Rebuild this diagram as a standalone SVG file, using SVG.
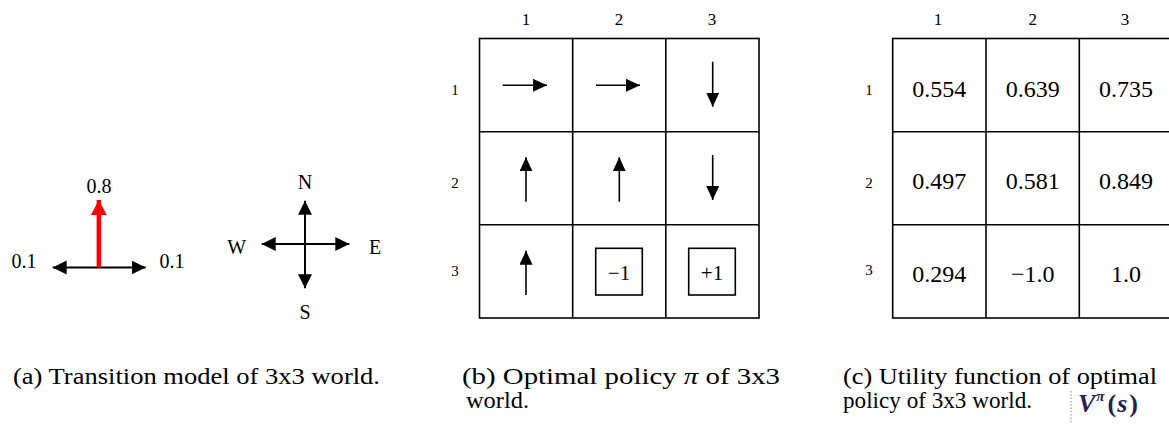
<svg xmlns="http://www.w3.org/2000/svg" width="1169" height="424" viewBox="0 0 1169 424" font-family="Liberation Serif, serif">
  <style>
    text { font-family: "Liberation Serif", serif; fill: #000; }
    .lbl { font-size: 20px; text-anchor: middle; }
    .col { font-size: 17px; text-anchor: middle; }
    .row { font-size: 15px; text-anchor: middle; }
    .val { font-size: 24px; text-anchor: middle; }
    .term { font-size: 21px; text-anchor: middle; }
    .cap { font-size: 23px; }
    .grid { fill: none; stroke: #000; stroke-width: 1.6; }
    .pol { stroke: #000; stroke-width: 1.6; fill: none; marker-end: url(#headS); }
    .ax { stroke: #000; stroke-width: 2; fill: none; }
  </style>
  <defs>
    <!-- small arrowhead for policy arrows -->
    <marker id="headS" markerUnits="userSpaceOnUse" markerWidth="15" markerHeight="13" refX="14" refY="6.5" orient="auto">
      <path d="M0,0 L14,6.5 L0,13 Z" fill="#000"/>
    </marker>
    <!-- arrowhead for the transition / compass arrows -->
    <marker id="headL" markerUnits="userSpaceOnUse" markerWidth="15" markerHeight="15" refX="14" refY="7" orient="auto-start-reverse">
      <path d="M0,0 L14,7 L0,14 Z" fill="#000"/>
    </marker>
    <marker id="headR" markerUnits="userSpaceOnUse" markerWidth="16" markerHeight="17" refX="15" refY="8" orient="auto">
      <path d="M0,0 L15,8 L0,16 Z" fill="#ff0000"/>
    </marker>
  </defs>

  <!-- (a) transition model -->
  <g id="transition">
    <line class="ax" x1="52.7" y1="267.5" x2="145.7" y2="267.5" marker-start="url(#headL)" marker-end="url(#headL)"/>
    <line x1="98.8" y1="267.5" x2="98.8" y2="200" stroke="#ff0000" stroke-width="4.4" marker-end="url(#headR)"/>
    <text class="lbl" x="99" y="193">0.8</text>
    <text class="lbl" x="24" y="268">0.1</text>
    <text class="lbl" x="172" y="268">0.1</text>
  </g>

  <g id="compass">
    <line class="ax" x1="305" y1="244" x2="305" y2="200.7" marker-end="url(#headL)"/>
    <line class="ax" x1="305" y1="244" x2="305" y2="288.3" marker-end="url(#headL)"/>
    <line class="ax" x1="305" y1="244" x2="261.7" y2="244" marker-end="url(#headL)"/>
    <line class="ax" x1="305" y1="244" x2="349.3" y2="244" marker-end="url(#headL)"/>
    <text class="lbl" x="305" y="189">N</text>
    <text class="lbl" x="305" y="319">S</text>
    <text class="lbl" x="236.7" y="254">W</text>
    <text class="lbl" x="375" y="254">E</text>
  </g>

  <!-- (b) optimal policy grid -->
  <g id="policy">
    <rect class="grid" x="479.5" y="38.5" width="279.5" height="279.5"/>
    <line class="grid" x1="572.7" y1="38.5" x2="572.7" y2="318"/>
    <line class="grid" x1="665.8" y1="38.5" x2="665.8" y2="318"/>
    <line class="grid" x1="479.5" y1="131.7" x2="759" y2="131.7"/>
    <line class="grid" x1="479.5" y1="224.8" x2="759" y2="224.8"/>
    <text class="col" x="526" y="25">1</text>
    <text class="col" x="619" y="25">2</text>
    <text class="col" x="712" y="25">3</text>
    <text class="row" x="455" y="95">1</text>
    <text class="row" x="455" y="188">2</text>
    <text class="row" x="455" y="276">3</text>
  </g>
  <g id="policy-arrows">
    <line class="pol" x1="502.7" y1="85.3" x2="547" y2="85.3"/>
    <line class="pol" x1="596" y1="85.3" x2="640" y2="85.3"/>
    <line class="pol" x1="712.7" y1="61.7" x2="712.7" y2="106.7"/>
    <line class="pol" x1="526" y1="201.7" x2="526" y2="157.3"/>
    <line class="pol" x1="619.3" y1="201.7" x2="619.3" y2="157.3"/>
    <line class="pol" x1="712.7" y1="155" x2="712.7" y2="200"/>
    <line class="pol" x1="526" y1="295" x2="526" y2="250.7"/>
  </g>
  <g id="terminal-minus">
    <rect class="grid" x="595.7" y="248.3" width="46.6" height="46.7"/>
    <text class="term" x="619" y="280">−1</text>
  </g>
  <g id="terminal-plus">
    <rect class="grid" x="688.7" y="248.3" width="46.6" height="46.7"/>
    <text class="term" x="712" y="280">+1</text>
  </g>

  <!-- (c) utility grid -->
  <g id="utility">
    <rect class="grid" x="892.7" y="38.5" width="279.9" height="279.5"/>
    <line class="grid" x1="986" y1="38.5" x2="986" y2="318"/>
    <line class="grid" x1="1079.3" y1="38.5" x2="1079.3" y2="318"/>
    <line class="grid" x1="892.7" y1="131.7" x2="1172.6" y2="131.7"/>
    <line class="grid" x1="892.7" y1="224.8" x2="1172.6" y2="224.8"/>
    <text class="col" x="938" y="25">1</text>
    <text class="col" x="1032.7" y="25">2</text>
    <text class="col" x="1125" y="25">3</text>
    <text class="row" x="869" y="95">1</text>
    <text class="row" x="869" y="188">2</text>
    <text class="row" x="869" y="275">3</text>
    <text class="val" x="939.3" y="96.5">0.554</text>
    <text class="val" x="1032.7" y="96.5">0.639</text>
    <text class="val" x="1126" y="96.5">0.735</text>
    <text class="val" x="939.3" y="189">0.497</text>
    <text class="val" x="1032.7" y="189">0.581</text>
    <text class="val" x="1126" y="189">0.849</text>
    <text class="val" x="939.3" y="281.5">0.294</text>
    <text class="val" x="1032.7" y="281.5">−1.0</text>
    <text class="val" x="1126" y="281.5">1.0</text>
  </g>

  <!-- captions -->
  <g id="captions">
    <text class="cap" x="13" y="384" textLength="367" lengthAdjust="spacingAndGlyphs">(a) Transition model of 3x3 world.</text>
    <text class="cap" x="462" y="384" textLength="318" lengthAdjust="spacingAndGlyphs">(b) Optimal policy <tspan font-style="italic">π</tspan> of 3x3</text>
    <text class="cap" x="466" y="408" textLength="63" lengthAdjust="spacingAndGlyphs">world.</text>
    <text class="cap" x="843" y="384" textLength="314" lengthAdjust="spacingAndGlyphs">(c) Utility function of optimal</text>
    <text class="cap" x="843" y="408" textLength="189" lengthAdjust="spacingAndGlyphs">policy of 3x3 world.</text>
    <line x1="1071" y1="391" x2="1071" y2="424" stroke="#9a9a9a" stroke-width="1.2" stroke-dasharray="1.5,1.8"/>
    <text x="1078" y="412" font-size="26" font-weight="bold" font-style="italic" style="fill:#232350">V<tspan font-size="15" dx="1" dy="-11">π</tspan><tspan dx="3" dy="11" font-style="normal">(</tspan><tspan dx="1">s</tspan><tspan dx="2" font-style="normal">)</tspan></text>
  </g>
</svg>
